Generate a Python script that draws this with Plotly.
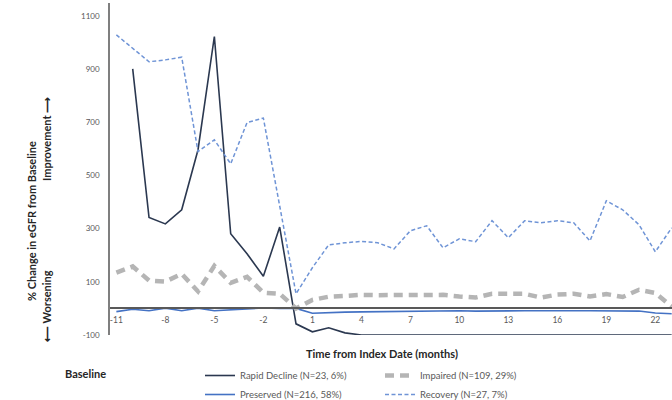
import plotly.graph_objects as go

# ---------------- data ----------------
months = list(range(-11, 24))
x_ticks = list(range(-11, 23, 3))
y_ticks = [-100, 100, 300, 500, 700, 900, 1100]

rapid_decline = [None, 901, 342, 318, 371, 597, 1023, 281, 206, 121, 306,
                 -58, -88, -73, -92, -100, -100, -100, -100, -100, -100, -100,
                 -100, -100, -100, -100, -100, -100, -100, -100, -100, -100,
                 -100, -100, -100]
preserved = [-12, -3, -9, 1, -9, 1, -9, -6, -2, 2, 0,
             0, -18, -15, -14, -13, -12, -11, -10, -9, -10, -9, -10, -9,
             -9, -9, -9, -10, -9, -9, -9, -9, -10, -17, -20]
impaired = [135, 158, 105, 101, 130, 64, 160, 96, 119, 59, 55,
            0, 32, 44, 47, 51, 50, 50, 47, 50, 51, 45, 41, 55, 54, 55,
            41, 52, 55, 45, 54, 43, 70, 58, 7]
recovery = [1029, 980, 928, 935, 945, 590, 634, 544, 699, 716, 386,
            55, 153, 239, 247, 252, 247, 224, 292, 311, 228, 262, 251, 330,
            266, 330, 322, 330, 322, 254, 405, 371, 315, 213, 303]

names = ["Rapid Decline (N=23, 6%)", "Impaired (N=109, 29%)",
         "Preserved (N=216, 58%)", "Recovery (N=27, 7%)"]

# ---------------- layout helpers ----------------
W, H = 672, 400
L, R, T, B = 110, 0, 3, 65
PW, PH = W - L - R, H - T - B
FONT = "Lato, 'Open Sans', sans-serif"


def px_x(px):
    return (px - L) / PW


def px_y(py):
    return (H - B - py) / PH


fig = go.Figure()
fig.add_trace(go.Scatter(x=months, y=rapid_decline, mode="lines", name=names[0],
                         line=dict(color="#2b3850", width=1.6), legend="legend"))
fig.add_trace(go.Scatter(x=months, y=preserved, mode="lines", name=names[2],
                         line=dict(color="#4472c4", width=1.6), legend="legend"))
fig.add_trace(go.Scatter(x=months, y=impaired, mode="lines", name=names[1],
                         line=dict(color="#b5b5b5", width=4.5, dash="9px,6px"),
                         legend="legend2"))
fig.add_trace(go.Scatter(x=months, y=recovery, mode="lines", name=names[3],
                         line=dict(color="#6f94d6", width=1.5, dash="4px,2.5px"),
                         legend="legend2"))

y_min, y_max = -100, 1149
zero_pos = (0 - y_min) / (y_max - y_min)

fig.update_layout(
    width=W, height=H,
    margin=dict(l=L, r=R, t=T, b=B, pad=0, autoexpand=False),
    paper_bgcolor="white", plot_bgcolor="white",
    font=dict(family=FONT, color="#595959", size=9),
    xaxis=dict(range=[-11.39, 23.02], tickvals=x_ticks, ticktext=[str(v) for v in x_ticks],
               showgrid=False, zeroline=False, showline=True, linecolor="#595959",
               linewidth=1.5, anchor="free", position=zero_pos,
               ticks="", ticklabelstandoff=4, tickfont=dict(size=8.5, color="#595959")),
    yaxis=dict(range=[y_min, y_max], tickvals=y_ticks, ticktext=[str(v) for v in y_ticks],
               showgrid=False, zeroline=False, showline=True, linecolor="#7f7f7f",
               linewidth=1.5, ticks="", ticklabelstandoff=7,
               tickfont=dict(size=8, color="#595959")),
    legend=dict(x=px_x(200), y=px_y(361), xanchor="left", yanchor="top",
                orientation="v", bgcolor="rgba(0,0,0,0)", itemwidth=30,
                font=dict(size=9.5, color="#595959"), tracegroupgap=0),
    legend2=dict(x=px_x(380), y=px_y(361), xanchor="left", yanchor="top",
                 orientation="v", bgcolor="rgba(0,0,0,0)", itemwidth=30,
                 font=dict(size=9.5, color="#595959"), tracegroupgap=0),
    showlegend=True,
)

title_font = dict(family=FONT, size=11, color="#262626", weight="bold")
ann = [
    dict(text="% Change in eGFR from Baseline", x=px_x(32), y=px_y(221), textangle=-90),
    dict(text="⟵ Worsening", x=px_x(46), y=px_y(306), textangle=-90),
    dict(text="Improvement ⟶", x=px_x(46), y=px_y(139), textangle=-90),
    dict(text="Time from Index Date (months)", x=px_x(382), y=px_y(353)),
    dict(text="Baseline", x=px_x(85), y=px_y(374)),
]
for a in ann:
    fig.add_annotation(xref="paper", yref="paper", showarrow=False,
                       xanchor="center", yanchor="middle", font=title_font, **a)

fig.write_html("out.html", config={"displayModeBar": False},
               post_script="document.body.style.margin='0px';")
